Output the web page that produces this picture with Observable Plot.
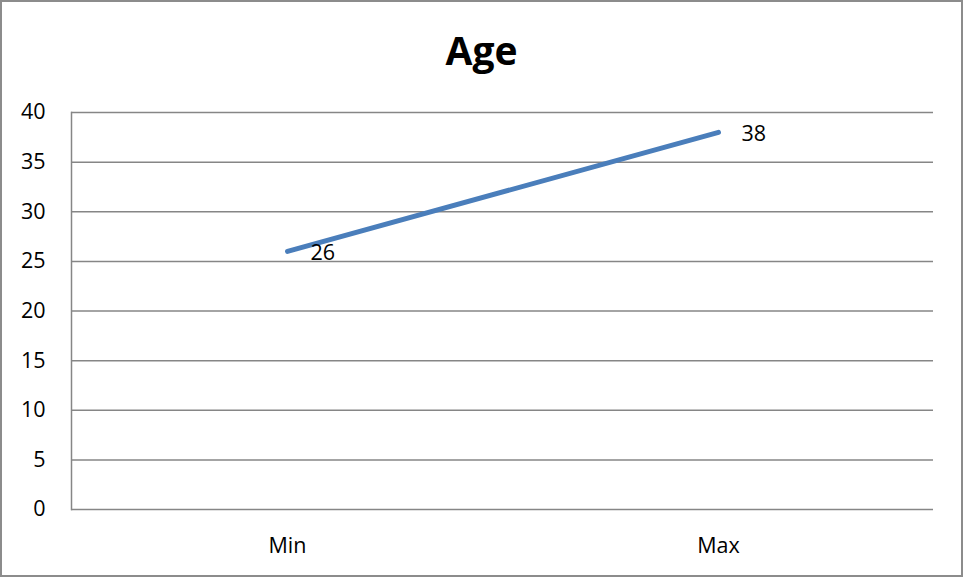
<!DOCTYPE html>
<html>
<head>
<meta charset="utf-8">
<script src="https://cdn.jsdelivr.net/npm/d3@7"></script>
<script src="https://cdn.jsdelivr.net/npm/@observablehq/plot@0.6"></script>
<style>
  body { margin: 0; background: #fff; }
  #wrap { position: relative; width: 963px; height: 577px; overflow: hidden; }
  #border { position: absolute; left: 0; top: 0; width: 963px; height: 577px; box-sizing: border-box; border: 2px solid #8c8c8c; pointer-events: none; }
  #title { position: absolute; left: 0; width: 963px; top: 22px; text-align: center; font-family: "Open Sans", sans-serif; font-weight: bold; font-size: 39px; line-height: 56px; color: #000; }
  #chart { position: absolute; left: 0; top: 0; }
</style>
</head>
<body>
<div id="wrap">
  <div id="chart"></div>
  <div id="title">Age</div>
  <div id="border"></div>
</div>
<script>
const categories = ["Min", "Max"];
const values = [26, 38];
const yTicks = [0, 5, 10, 15, 20, 25, 30, 35, 40];

const data = categories.map((c, i) => ({category: c, value: values[i]}));

const chart = Plot.plot({
  width: 963,
  height: 577,
  marginLeft: 71,
  marginRight: 30,
  marginTop: 112,
  marginBottom: 68,
  style: {fontFamily: "Open Sans, sans-serif", fontSize: "21.5px", color: "#000", background: "transparent"},
  x: {type: "point", domain: categories, padding: 0.5, label: null},
  y: {domain: [0, 40], label: null},
  marks: [
    Plot.ruleY(yTicks, {stroke: "#868686", strokeWidth: 1.5, strokeOpacity: 1}),
    Plot.frame({anchor: "left", stroke: "#868686", strokeWidth: 1.5}),
    Plot.axisY({ticks: yTicks, tickSize: 0, tickPadding: 26, fontSize: 21.5, label: null}),
    Plot.axisX({tickSize: 0, tickPadding: 28, fontSize: 21.5, label: null}),
    Plot.line(data, {x: "category", y: "value", stroke: "#4a7ebb", strokeWidth: 5, strokeLinecap: "round"}),
    Plot.text(data, {x: "category", y: "value", text: d => String(d.value), textAnchor: "start", dx: 23, dy: 2, fontSize: 21.5, fill: "#000"})
  ]
});
document.getElementById("chart").appendChild(chart);
</script>
</body>
</html>
